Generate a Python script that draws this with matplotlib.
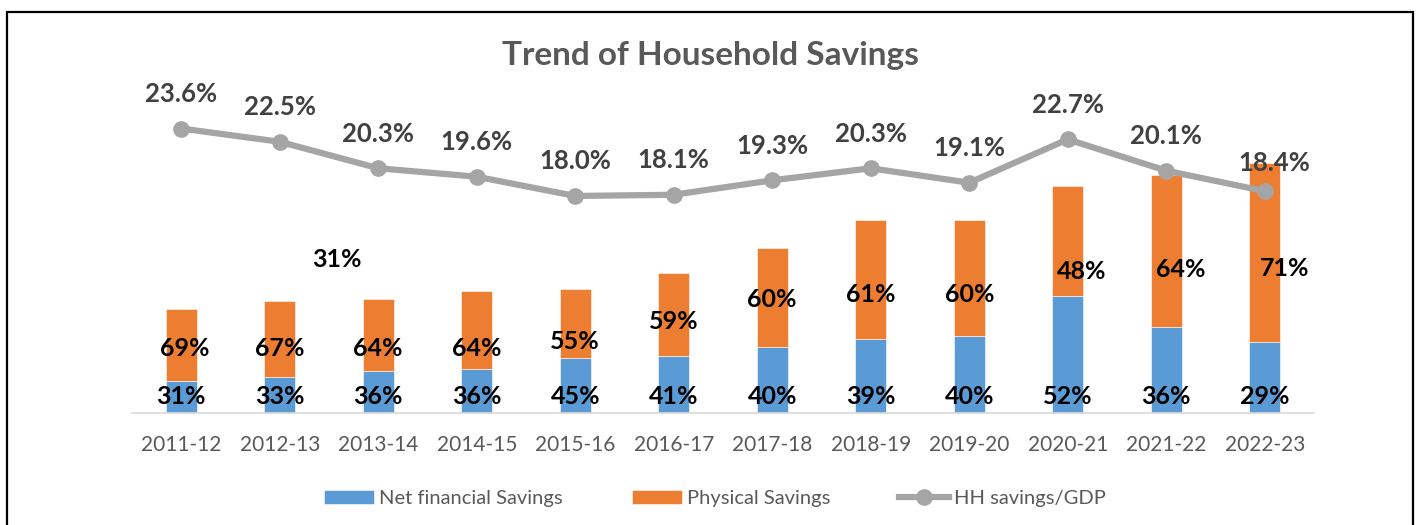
import matplotlib.pyplot as plt
from matplotlib.patches import Rectangle

plt.rcParams['font.family'] = ['Lato', 'DejaVu Sans']

years = ["2011-12", "2012-13", "2013-14", "2014-15", "2015-16", "2016-17",
         "2017-18", "2018-19", "2019-20", "2020-21", "2021-22", "2022-23"]

# savings (lakh crore)
net_financial = [6.2, 7.1, 8.1, 8.5, 10.8, 11.2, 12.8, 14.5, 15.1, 22.8, 16.8, 13.9]
physical = [14.1, 14.9, 14.3, 15.4, 13.5, 16.2, 19.6, 23.3, 22.7, 21.6, 29.8, 35.1]

# HH savings as % of GDP
hh_gdp = [23.6, 22.5, 20.3, 19.6, 18.0, 18.1, 19.3, 20.3, 19.1, 22.7, 20.1, 18.4]

# share labels shown on the bars
fin_share = ["31%", "33%", "36%", "36%", "45%", "41%", "40%", "39%", "40%", "52%", "36%", "29%"]
phys_share = ["69%", "67%", "64%", "64%", "55%", "59%", "60%", "61%", "60%", "48%", "64%", "71%"]

# where the physical-share labels sit (same units as bars) and their x nudge
phys_label_y = [12.5, 12.5, 12.5, 12.6, 13.9, 17.9, 22.2, 23.1, 23.1, 27.7, 28.0, 28.3]
phys_label_dx = [0.04, 0, 0, 0, 0, 0, 0, 0, 0, 0.14, 0.15, 0.2]

blue = '#5b9bd5'
orange = '#ed7d31'
grey = '#a5a5a5'
txt = '#595959'

fig = plt.figure(figsize=(14.16, 5.25), dpi=100)
ax = fig.add_axes([132 / 1416, 112.3 / 525, 1182 / 1416, 322.7 / 525])
x = range(len(years))

b1 = ax.bar(x, net_financial, width=0.31, color=blue, edgecolor='white', linewidth=0.4,
            label='Net financial Savings', zorder=2)
b2 = ax.bar(x, physical, width=0.31, bottom=net_financial, color=orange, edgecolor='white',
            linewidth=0.4, label='Physical Savings', zorder=2)

ax.set_xlim(-0.5, len(years) - 0.5)
ax.set_ylim(0, 63.3)
ax.set_yticks([])
ax.set_xticks(list(x))
ax.set_xticklabels(years, fontsize=15, color=txt)
ax.tick_params(axis='x', length=0, pad=16)
for s in ['top', 'left', 'right']:
    ax.spines[s].set_visible(False)
ax.spines['bottom'].set_color('#d9d9d9')
ax.spines['bottom'].set_linewidth(1.2)

for i in x:
    ax.text(i, 3.1, fin_share[i], ha='center', va='center', fontsize=18,
            fontweight='bold', color='black', zorder=5)
    ax.text(i + phys_label_dx[i], phys_label_y[i], phys_share[i], ha='center', va='center',
            fontsize=18, fontweight='bold', color='black', zorder=5)

# stray label left over in the original
ax.text(1.58, 30.0, "31%", ha='center', va='center', fontsize=18,
        fontweight='bold', color='black')

ax2 = ax.twinx()
ax2.set_ylim(0, 26.8)
ax2.axis('off')
ln, = ax2.plot(list(x), hh_gdp, color=grey, linewidth=4.5, marker='o', markersize=11,
               label='HH savings/GDP', zorder=3)
for i in x:
    dx, dy = (0, 25) if i < len(years) - 1 else (7, 20)
    ax2.annotate(f"{hh_gdp[i]:.1f}%", (i, hh_gdp[i]), xytext=(dx, dy),
                 textcoords='offset points', ha='center', va='center',
                 fontsize=18.5, fontweight='bold', color='#404040')

fig.text(0.5016, 0.895, "Trend of Household Savings", ha='center', va='center',
         fontsize=24, fontweight='bold', color=txt)

leg = fig.legend(handles=[b1, b2, ln], loc='center', bbox_to_anchor=(0.505, 0.05),
                 ncol=3, frameon=False, fontsize=14.5, handlelength=2.5,
                 handleheight=0.7, columnspacing=3.4, handletextpad=0.25)
for t in leg.get_texts():
    t.set_color(txt)

fig.patches.append(Rectangle((7 / 1416, -0.02), 1406 / 1416, 0.02 + 513 / 525,
                             transform=fig.transFigure, fill=False,
                             edgecolor='black', linewidth=1.6))

fig.savefig('out.png', dpi=100)
